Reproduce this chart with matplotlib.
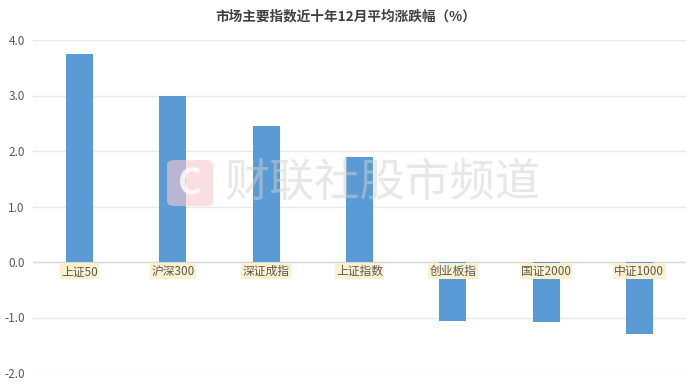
import matplotlib.pyplot as plt
from matplotlib.patches import FancyBboxPatch

plt.rcParams['font.family'] = ['Noto Sans CJK SC', 'DejaVu Sans']

categories = ['上证50', '沪深300', '深证成指', '上证指数', '创业板指', '国证2000', '中证1000']
values = [3.75, 2.99, 2.45, 1.89, -1.06, -1.08, -1.30]
yticks = [4.0, 3.0, 2.0, 1.0, 0.0, -1.0, -2.0]

fig = plt.figure(figsize=(6.92, 3.84), dpi=100)
ax = fig.add_axes([33 / 692, 1 - 373 / 384, 653 / 692, (373 - 40) / 384])

x = range(len(categories))
ax.bar(x, values, width=0.29, color='#5b9bd5', zorder=3)

ax.set_xlim(-0.5, len(categories) - 0.5)
ax.set_ylim(-2.0, 4.0)
ax.set_yticks(yticks)
ax.set_yticklabels([f'{v:.1f}' for v in yticks], fontsize=8.5, color='#595959')
ax.set_xticks([])
ax.tick_params(axis='y', length=0, pad=6)
ax.grid(axis='y', color='#e8e8e8', linewidth=1, zorder=0)
ax.axhline(0, color='#d9d9d9', linewidth=1, zorder=2)
for s in ax.spines.values():
    s.set_visible(False)

for i, c in enumerate(categories):
    ax.text(i, -0.05, c, ha='center', va='top', fontsize=8.5, color='#595959', zorder=5,
            bbox=dict(boxstyle='square,pad=0.12', facecolor='#fdf0cc', edgecolor='none'))

fig.text(0.5, 1 - 16 / 384, '市场主要指数近十年12月平均涨跌幅（%）', ha='center', va='center',
         fontsize=9.8, fontweight='bold', color='#404040')

# watermark
logo = FancyBboxPatch((167 / 692, 1 - 206 / 384), 46 / 692, 46 / 384,
                      boxstyle='round,pad=0,rounding_size=0.012', transform=fig.transFigure,
                      facecolor='#f7c9cf', edgecolor='none', alpha=0.6, zorder=4)
fig.add_artist(logo)
fig.text(190 / 692, 1 - 183 / 384, 'C', ha='center', va='center', fontsize=26,
         fontweight='bold', color='white', alpha=0.8, zorder=5)
fig.text(224 / 692, 1 - 183 / 384, '财联社股市频道', ha='left', va='center', fontsize=32.5,
         color='#d0d0d0', alpha=0.5, zorder=5)

fig.savefig('out.png', dpi=100, facecolor='white')
